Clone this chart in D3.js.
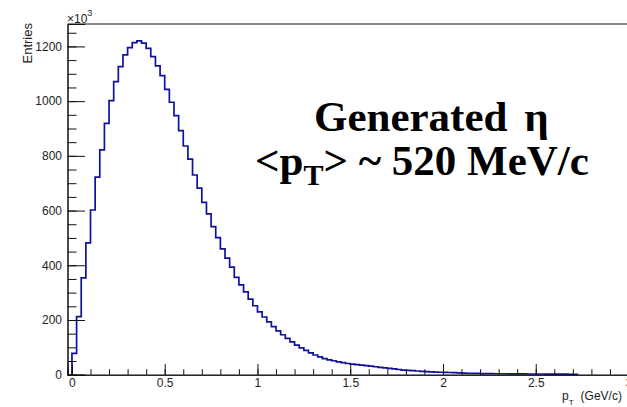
<!DOCTYPE html>
<html>
<head>
    <title></title>
    <script src="https://d3js.org/d3.v7.min.js"></script>
    <style>
        body { margin: 0; background: #fff; }
        text { font-family: "Liberation Sans", Arial, sans-serif; fill: #222; }
        .big { font-family: "Liberation Serif", "Times New Roman", serif; font-weight: bold; fill: #000; }
    </style>
</head>
<body>

    <svg id="plot" width="627" height="407"></svg>

    <script>

    // histogram: 0.025 GeV/c bins starting at 0, counts in units of 10^3
    var binWidth = 0.025;
    var binStart = 0;
    var counts = [ 78, 212, 354, 482, 602, 722, 822, 919, 1002, 1071, 1126, 1169, 1196, 1214, 1220, 1212, 1193, 1163, 1129,
                   1093, 1043, 996, 947, 892, 836, 788, 730, 682, 630, 588, 541, 501, 460, 426, 393, 356, 328, 303,
                   276, 252, 230, 211, 193, 176, 160, 146, 133, 120, 108, 98, 89, 80, 72, 65, 59, 54,
                   51, 47, 44, 41, 39, 37, 35, 33, 31, 29, 27, 25, 23, 21, 19, 17, 16, 15, 13.5, 12.5,
                   11, 10, 9.5, 9, 8.5, 8, 7.5, 6.5, 5.5, 5,
                   4.5, 4.5, 4, 4, 4, 3.5, 3.5, 3.5, 3, 3, 3, 3, 2.5, 2.5, 2.5, 2.5, 2, 2, 2, 2, 2, 1.5, 1.5 ];

    var xMajor = [0, 0.5, 1, 1.5, 2, 2.5, 3];
    var xMinor = d3.range(0, 31).map(i => i / 10);
    var yMajor = [0, 200, 400, 600, 800, 1000, 1200];
    var yMinor = d3.range(0, 26).map(i => i * 50);

    var xSc = d3.scaleLinear().domain([-0.024, 3.0]).range([67.5, 628.5]);
    var ySc = d3.scaleLinear().domain([0, 1282]).range([374.7, 24]);

    let svg = d3.select("#plot");

    // frame top line
    svg.append("line").attr("x1", xSc.range()[0]).attr("x2", xSc.range()[1])
        .attr("y1", ySc.range()[1]).attr("y2", ySc.range()[1])
        .attr("stroke", "#111").attr("stroke-width", 1);

    // histogram outline
    var pts = [[binStart, 0]];
    counts.forEach((c, i) => pts.push([binStart + i * binWidth, c]));
    var xEnd = binStart + counts.length * binWidth;
    pts.push([xEnd, counts[counts.length - 1]]);
    pts.push([xEnd, 0]);

    var lnMkr = d3.line().curve(d3.curveStepAfter).x(d => xSc(d[0])).y(d => ySc(d[1]));
    svg.append("path").attr("d", lnMkr(pts))
        .attr("fill", "none").attr("stroke", "#10109f").attr("stroke-width", 1.7);

    // y axis (ticks inside)
    var yG = svg.append("g").attr("transform", "translate(" + xSc.range()[0] + ",0)");
    yG.call(d3.axisLeft(ySc).tickValues(yMinor).tickSize(-9).tickFormat(""));
    yG.append("g").call(d3.axisLeft(ySc).tickValues(yMajor).tickSize(-17.5).tickPadding(5.5).tickFormat(d3.format("d")));
    yG.selectAll("path.domain").attr("stroke", "#111");
    yG.selectAll("line").attr("stroke", "#111");
    yG.selectAll("text").style("font-size", "12px").attr("fill", "#222");

    // x axis (ticks inside)
    var xG = svg.append("g").attr("transform", "translate(0," + ySc.range()[0] + ")");
    xG.call(d3.axisBottom(xSc).tickValues(xMinor).tickSize(-5.5).tickFormat(""));
    xG.append("g").call(d3.axisBottom(xSc).tickValues(xMajor).tickSize(-10.7).tickPadding(4).tickFormat(d => String(d)));
    xG.selectAll("path.domain").attr("stroke", "#111");
    xG.selectAll("line").attr("stroke", "#111");
    xG.selectAll("text").style("font-size", "12px").attr("fill", "#222");

    // axis titles
    svg.append("text").attr("transform", "translate(32,23) rotate(-90)")
        .attr("text-anchor", "end").style("font-size", "13px").text("Entries");

    var mult = svg.append("text").attr("x", 67).attr("y", 23).style("font-size", "12px");
    mult.append("tspan").text("×10");
    mult.append("tspan").attr("dy", -7).style("font-size", "9px").text("3");

    var xt = svg.append("text").attr("x", 562).attr("y", 400).style("font-size", "12px");
    xt.append("tspan").text("p");
    xt.append("tspan").attr("dy", 5).style("font-size", "8px").text("T");
    xt.append("tspan").attr("dy", -5).attr("dx", 7).text("(GeV/c)");

    // annotation
    var t1 = svg.append("text").attr("class", "big").attr("x", 314).attr("y", 131).style("font-size", "43px");
    t1.append("tspan").text("Generated ");
    t1.append("tspan").attr("dx", 6).text("η");

    var t2 = svg.append("text").attr("class", "big").attr("x", 255).attr("y", 175).style("font-size", "43px");
    t2.append("tspan").text("<p");
    t2.append("tspan").attr("dy", 10).style("font-size", "30px").text("T");
    t2.append("tspan").attr("dy", -10).text("> ~ 520 MeV/c");

    </script>

</body></html>
